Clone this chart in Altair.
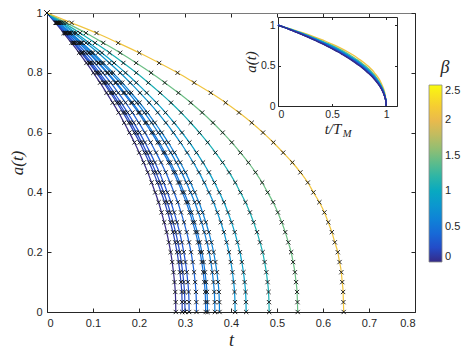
import altair as alt
import pandas as pd

# ---------------- data ----------------
# end times T_M of each curve and the beta value (colour) of each curve
T_M = [0.280, 0.294, 0.300, 0.309, 0.325, 0.345, 0.349, 0.365, 0.375, 0.409, 0.433, 0.483, 0.545, 0.645]
beta = [0.0, 0.15, 0.2, 0.25, 0.35, 0.45, 0.5, 0.55, 0.6, 0.75, 0.9, 1.1, 1.45, 2.1]
# marker levels of a(t)
a_levels = [1, 0.967, 0.933, 0.9, 0.867, 0.833, 0.8, 0.767, 0.733, 0.7, 0.667, 0.633, 0.6,
            0.567, 0.533, 0.5, 0.467, 0.433, 0.4, 0.367, 0.333, 0.3, 0.267, 0.233, 0.2,
            0.167, 0.133, 0.1, 0.067, 0.033, 0]
# normalised time t/T_M at each level, lower edge (beta=0) and upper edge (largest beta) of the inset band
shape_low = [0, 0.066, 0.129, 0.19, 0.249, 0.306, 0.36, 0.412, 0.462, 0.51, 0.556, 0.599, 0.64,
             0.679, 0.716, 0.75, 0.782, 0.812, 0.84, 0.866, 0.889, 0.91, 0.929, 0.946, 0.96,
             0.972, 0.982, 0.99, 0.996, 0.999, 1]
shape_high = [0, 0.083, 0.167, 0.240, 0.311, 0.378, 0.440, 0.496, 0.552, 0.602, 0.647, 0.690, 0.728,
              0.763, 0.796, 0.827, 0.854, 0.879, 0.898, 0.918, 0.935, 0.948, 0.960, 0.970, 0.980,
              0.986, 0.992, 0.995, 0.998, 0.999, 1]

x_ticks = [0, 0.1, 0.2, 0.3, 0.4, 0.5, 0.6, 0.7, 0.8]
y_ticks = [0, 0.2, 0.4, 0.6, 0.8, 1]
inset_ticks = [0, 0.5, 1]
cbar_ticks = [0, 0.5, 1, 1.5, 2, 2.5]

parula_domain = [0, 0.238, 0.516, 0.754, 0.992, 1.270, 1.508, 1.746, 1.984, 2.262, 2.5]
parula_range = ["#352a87", "#2053d4", "#1079da", "#0c93d2", "#07a9c2", "#38b99e",
                "#7cbf7b", "#b7bd64", "#e9b94e", "#fad32a", "#f9fb0e"]

# ---------------- table ----------------
rows = []
bmax = max(beta)
for i, (T, b) in enumerate(zip(T_M, beta)):
    w = b / bmax
    for k, a in enumerate(a_levels):
        xn = (1 - w) * shape_low[k] + w * shape_high[k]
        rows.append({"curve": i, "k": k, "beta": b, "a": a, "xn": xn, "t": T * xn})
df = pd.DataFrame(rows)
# inset: draw large beta first so the blue curves lie on top
df_inset = df.sort_values(["curve", "k"], ascending=[False, True]).reset_index(drop=True)
df_inset["curve"] = len(T_M) - 1 - df_inset["curve"]

PAD_TOP = 5
W, H = 368, 299
AX = "#262626"
SERIF = "Liberation Serif"
SANS = "Liberation Sans"

# inset placement (plot-area pixels)
IL, IR, IT, IB = 231, 350, 17 - 8 - PAD_TOP, 106 - 8 - PAD_TOP

color_legend = alt.Legend(
    orient="none", legendX=382, legendY=88 - 8 - PAD_TOP - 29, direction="vertical",
    gradientLength=177, gradientThickness=13, values=cbar_ticks, format="~g",
    title="β", titleFont=SERIF, titleFontStyle="italic", titleFontWeight="normal",
    titleFontSize=18, titleColor=AX, titlePadding=8, titleAnchor="middle",
    labelFont=SANS, labelFontSize=11, labelColor=AX, labelOffset=3,
    gradientStrokeColor="#888", gradientStrokeWidth=0.8, tickCount=6,
)
color_scale = alt.Scale(domain=parula_domain, range=parula_range, type="linear", interpolate="rgb")

xs_main = alt.Scale(domain=[0, 0.8], nice=False, zero=False)
ys_main = alt.Scale(domain=[0, 1], nice=False, zero=False)
xs_in = alt.Scale(domain=[0, 1.1], range=[IL, IR], nice=False, zero=False)
ys_in = alt.Scale(domain=[0, 1.1], range=[IB, IT], nice=False, zero=False)

title_kw = dict(titleFont=SERIF, titleFontStyle="italic", titleFontWeight="normal", titleColor=AX)
label_kw = dict(labelFont=SANS, labelColor=AX, format="~g", grid=False)

# Layer A: main curves + bottom/left axes with labels
A = alt.Chart(df).mark_line(strokeWidth=1.2, interpolate="monotone").encode(
    x=alt.X("t:Q", scale=xs_main, axis=alt.Axis(orient="bottom", values=x_ticks, ticks=False,
            domainColor=AX, labelFontSize=11, labelPadding=5, title="t", titleFontSize=18,
            titlePadding=3, **title_kw, **label_kw)),
    y=alt.Y("a:Q", scale=ys_main, axis=alt.Axis(orient="left", values=y_ticks, ticks=False,
            domainColor=AX, labelFontSize=11, labelPadding=5, title="a(t)", titleFontSize=17,
            titlePadding=0, **title_kw, **label_kw)),
    color=alt.Color("beta:Q", scale=color_scale, legend=color_legend),
    detail="curve:N",
    order="k:Q",
)

# Layer B: markers + inward ticks at bottom and left
cross = "M-1,-1L1,1M-1,1L1,-1"
B = alt.Chart(df).mark_point(shape=cross, size=18, color="#111", strokeWidth=1.0, opacity=0.9,
                             filled=False).encode(
    x=alt.X("t:Q", scale=xs_main, axis=alt.Axis(orient="top", offset=-H, values=x_ticks, labels=False,
            domain=False, tickSize=4, tickColor=AX, title=None, grid=False)),
    y=alt.Y("a:Q", scale=ys_main, axis=alt.Axis(orient="right", offset=-W, values=y_ticks, labels=False,
            domain=False, tickSize=4, tickColor=AX, title=None, grid=False)),
)

# Layer C: box top/right with inward ticks
box_df = pd.DataFrame({"t": [0, 0.8], "a": [0, 1]})
C = alt.Chart(box_df).mark_point(opacity=0).encode(
    x=alt.X("t:Q", scale=xs_main, axis=alt.Axis(orient="bottom", offset=-H, values=x_ticks, labels=False,
            domainColor="#7a7a7a", tickSize=4, tickColor=AX, title=None, grid=False)),
    y=alt.Y("a:Q", scale=ys_main, axis=alt.Axis(orient="left", offset=-W, values=y_ticks, labels=False,
            domainColor=AX, tickSize=4, tickColor=AX, title=None, grid=False)),
)

# Layer D: inset curves with its labelled axes
D = alt.Chart(df_inset).mark_line(strokeWidth=1.3, interpolate="monotone").encode(
    x=alt.X("xn:Q", scale=xs_in, axis=alt.Axis(orient="bottom", offset=IB - H, values=inset_ticks,
            ticks=False, domainColor=AX, labelFontSize=10.5, labelPadding=3,
            title="t/T", titleFontSize=15, titleX=(IL + IR) / 2 - 5, titleY=27,
            titleBaseline="alphabetic", **title_kw, **label_kw)),
    y=alt.Y("a:Q", scale=ys_in, axis=alt.Axis(orient="left", offset=-IL, values=inset_ticks,
            ticks=False, domainColor=AX, labelFontSize=10.5, labelPadding=3,
            title="a(t)", titleFontSize=15, titlePadding=2, **title_kw, **label_kw)),
    color=alt.Color("beta:Q", scale=color_scale, legend=color_legend),
    detail="curve:N",
    order="k:Q",
)

# Layer E: inset inward ticks bottom/left (+ subscript of the x title)
inset_box = pd.DataFrame({"xn": [0, 1.1], "a": [0, 1.1]})
E = alt.Chart(inset_box).mark_point(opacity=0).encode(
    x=alt.X("xn:Q", scale=xs_in, axis=alt.Axis(orient="top", offset=-IB, values=inset_ticks, labels=False,
            domain=False, tickSize=2.5, tickColor=AX, title="M", titleFontSize=10.5,
            titleX=(IL + IR) / 2 + 9, titleY=30, titleBaseline="alphabetic", titleAngle=0,
            grid=False, **title_kw)),
    y=alt.Y("a:Q", scale=ys_in, axis=alt.Axis(orient="right", offset=IL - W, values=inset_ticks,
            labels=False, domain=False, tickSize=2.5, tickColor=AX, title=None, grid=False)),
)

# Layer F: inset box top/right
F = alt.Chart(inset_box).mark_point(opacity=0).encode(
    x=alt.X("xn:Q", scale=xs_in, axis=alt.Axis(orient="bottom", offset=IT - H, values=inset_ticks,
            labels=False, domainColor=AX, tickSize=2.5, tickColor=AX, title=None, grid=False)),
    y=alt.Y("a:Q", scale=ys_in, axis=alt.Axis(orient="left", offset=-IR, values=inset_ticks,
            labels=False, domainColor=AX, tickSize=2.5, tickColor=AX, title=None, grid=False)),
)

chart = alt.layer(A, B, C, D, E, F).resolve_scale(
    x="independent", y="independent", color="shared"
).resolve_axis(x="independent", y="independent").properties(
    width=W, height=H,
    autosize=alt.AutoSizeParams(type="none"),
    padding={"left": 39, "top": PAD_TOP, "right": 49, "bottom": 42},
).configure_view(stroke=None).configure_axis(grid=False)

chart.save("out.html", embed_options={"renderer": "svg", "actions": False})
